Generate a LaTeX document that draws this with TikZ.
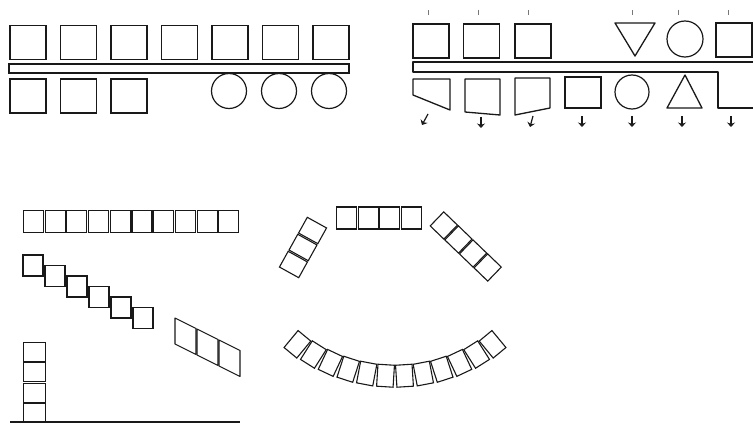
\documentclass[tikz,border=0pt]{standalone}
\usepackage{xcolor}
\usepackage{tikz}
\usetikzlibrary{shapes.geometric, arrows.meta, positioning}
\definecolor{encre}{RGB}{25, 25, 25}
\definecolor{encreClair}{RGB}{120, 120, 120}

\begin{document}
\begin{tikzpicture}[x=1pt, y=-1pt,
  box/.style={rectangle, draw=encre, line width=1.4pt, inner sep=0pt,
    minimum width=36pt, minimum height=34pt},
  cell/.style={rectangle, draw=encre, line width=1.1pt, inner sep=0pt,
    minimum width=20pt, minimum height=22pt},
  ring/.style={circle, draw=encre, line width=1.2pt, inner sep=0pt,
    minimum size=35pt},
  rail/.style={rectangle, draw=encre, line width=1.4pt, inner sep=0pt},
  form/.style={draw=encre, line width=1.3pt, line join=round},
  arr/.style={-{Stealth[length=4.5pt, width=8pt]}, line width=1.2pt,
    draw=encre},
  tick/.style={draw=encreClair, line width=0.6pt},
]
\useasboundingbox (0,0) rectangle (753,425);

% conveyor with two rows
\foreach \i in {0,...,6}
  \node[box] (top\i) at ({28+50.5*\i}, 42.5) {};
\node[rail, minimum width=340pt, minimum height=9pt] (railA) at (179, 68.5) {};
\foreach \i in {0,1,2}
  \node[box] (low\i) at ({28+50.5*\i}, 96) {};
\foreach \x [count=\i] in {229, 279, 329}
  \node[ring] (wheel\i) at (\x, 91) {};

% mixed shapes, open to the right
\foreach \x [count=\i] in {431, 481.5, 533}
  \node[box] (upper\i) at (\x, 41) {};
\draw[form] (615,23) -- (655,23) -- (635,56) -- cycle;
\node[ring, minimum size=36pt] (upperRing) at (685, 39) {};
\node[box] (upperEnd) at (734, 40) {};
\draw[form] (753,62) -- (413,62) -- (413,72) -- (718,72) -- (718,108) -- (753,108);
\draw[form] (413,79) -- (450,79) -- (450,110) -- (413,95) -- cycle;
\draw[form] (465,79) -- (500,79) -- (500,115) -- (465,112) -- cycle;
\draw[form] (515,78) -- (550,78) -- (550,108) -- (515,115) -- cycle;
\node[box, minimum height=31pt] (lowerBox) at (583, 92.5) {};
\node[ring, minimum size=34pt] (lowerRing) at (632, 92) {};
\draw[form] (667,108) -- (702,108) -- (685,75) -- cycle;
\foreach \x in {428, 478, 528, 632, 678, 728}
  \draw[tick] (\x,10) -- (\x,15);
\foreach \xa/\xb/\ya [count=\i] in {428/422/114, 481/481/117, 533/530/116,
    582/582/116, 632/632/116, 682/682/116, 731/731/116}
{
  \coordinate (out\i) at (\xa, \ya);
  \coordinate (end\i) at (\xb, {\ya+11});
  \draw[arr] (out\i) -- (end\i);
}

% straight, stepped, skewed and stacked cells
\foreach \i in {0,...,9}
  \node[cell] (row\i) at ({33.5+21.7*\i}, 221.5) {};
\foreach \i in {0,...,5}
  \node[cell, minimum height=21pt] (stair\i) at ({33+22*\i}, {265.5+10.5*\i}) {};
\foreach \i in {0,1,2}
  \draw[form, line width=1.1pt] ({175+22*\i},{318+11*\i}) -- ++(21,10.5)
    -- ++(0,26) -- ++(-21,-10.5) -- cycle;
\foreach \i in {0,...,3}
  \node[cell, minimum width=22pt, minimum height=19pt] (stack\i) at (34.5, {352+20.3*\i}) {};
\draw[form] (10,422) -- (240,422);

% cells around a curve
\foreach \i in {0,...,3}
  \node[cell] (arcTop\i) at ({346.75+21.5*\i}, 218) {};
\foreach \k [count=\i] in {-1,0,1}
  \node[cell, minimum width=22pt, minimum height=18pt, rotate=-29]
    (arcLeft\i) at ({303-9.55*\k}, {247.5+17*\k}) {};
\foreach \k [count=\i] in {-1.5,-0.5,0.5,1.5}
  \node[cell, minimum width=19.5pt, minimum height=19pt, rotate=46]
    (arcRight\i) at ({465.75+14.62*\k}, {246.5+14*\k}) {};
\foreach \i in {0,...,11}
{
  \pgfmathsetmacro\ang{-36+72/11*\i}
  \node[cell, minimum width=16.5pt, minimum height=22pt, rotate=1.1*\ang]
    (arcLow\i) at ({395+166*sin(\ang)}, {210+166*cos(\ang)}) {};
}
\end{tikzpicture}
\end{document}
